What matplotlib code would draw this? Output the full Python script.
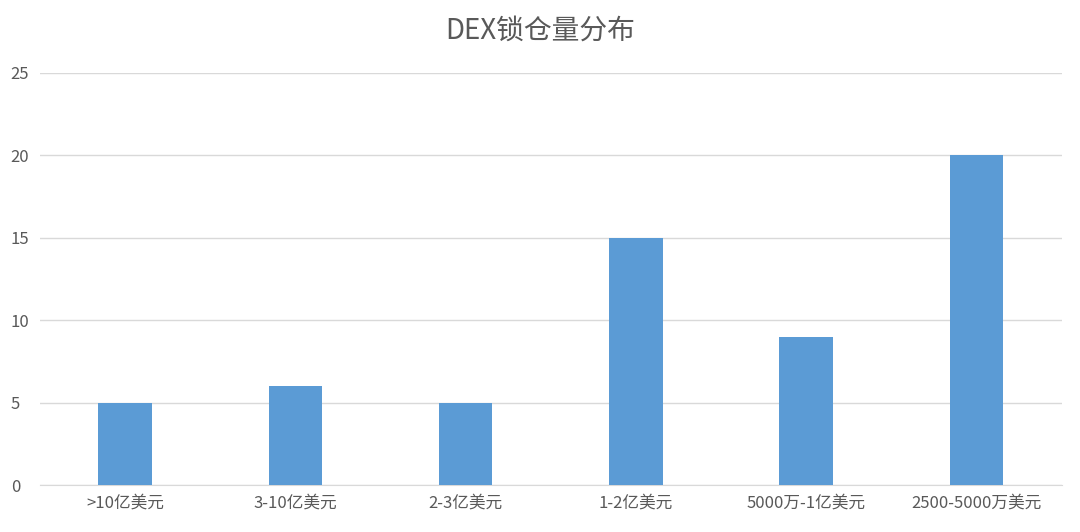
import matplotlib
matplotlib.use('Agg')
import matplotlib.pyplot as plt

plt.rcParams['font.family'] = ['Noto Sans CJK SC', 'DejaVu Sans']

# data
categories = ['>10亿美元', '3-10亿美元', '2-3亿美元', '1-2亿美元', '5000万-1亿美元', '2500-5000万美元']
counts = [5, 6, 5, 15, 9, 20]
y_ticks = [0, 5, 10, 15, 20, 25]

fig = plt.figure(figsize=(10.8, 5.32), dpi=100)
ax = fig.add_axes([0.037, 0.0883, 0.946, 0.7745])

x = list(range(len(categories)))
ax.bar(x, counts, width=0.315, color='#5B9BD5', zorder=3)

ax.set_xlim(-0.5, len(categories) - 0.5)
ax.set_ylim(0, 25)
ax.set_yticks(y_ticks)
ax.set_xticks(x)
ax.set_xticklabels(categories)
ax.grid(axis='y', color='#d9d9d9', linewidth=1, zorder=0)
ax.tick_params(axis='both', length=0, labelsize=12, colors='#595959')
ax.tick_params(axis='x', pad=7)
ax.tick_params(axis='y', pad=21)
for lab in ax.get_yticklabels():
    lab.set_horizontalalignment('left')
for s in ['top', 'right', 'left']:
    ax.spines[s].set_visible(False)
ax.spines['bottom'].set_color('#d9d9d9')

fig.text(0.5, 0.942, 'DEX锁仓量分布', ha='center', va='center', fontsize=20, color='#595959')

fig.savefig('out.png', dpi=100)
